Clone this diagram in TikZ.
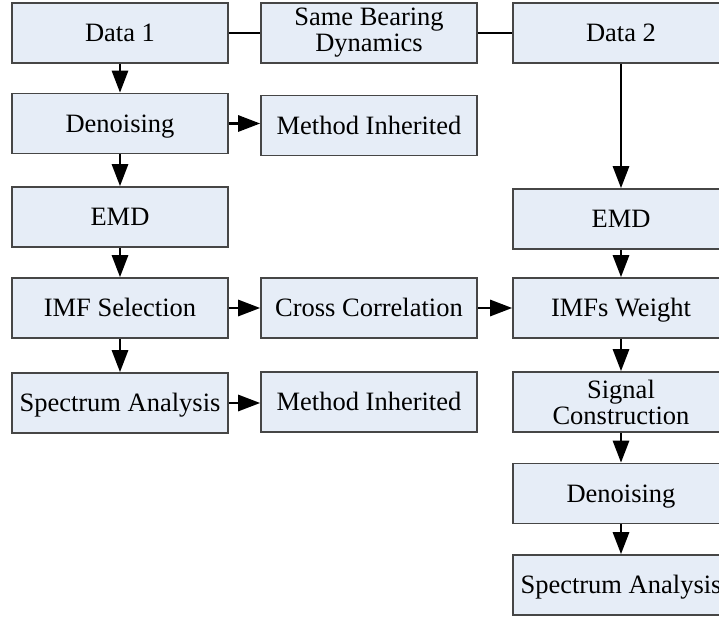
\documentclass[tikz,border=0pt]{standalone}
\usepackage{fontspec}
\setmainfont{Liberation Serif}
\usetikzlibrary{arrows.meta}
\definecolor{boxfill}{RGB}{230,237,247}
\definecolor{boxline}{RGB}{70,70,70}
\tikzset{
  stage/.style={draw=boxline, line width=1.6pt, fill=boxfill,
    minimum width=216pt, minimum height=60pt, inner sep=0pt,
    align=center, font=\fontsize{26.5}{26}\selectfont},
  % single-line boxes: centre the capitals, not the descenders
  oneline/.style={stage, text height=17.5pt, text depth=0pt},
  link/.style={line width=2.8pt, black},
  flow/.style={link, -{Triangle[length=22pt,width=16pt]}}
}
\begin{document}
\begin{tikzpicture}[x=1pt,y=-1pt]
\useasboundingbox (0,0) rectangle (719,617);
% top row
\node[oneline] (d1)  at (120,33)  {Data 1};
\node[stage]   (sbd) at (369,33)  {Same Bearing\\Dynamics};
\node[oneline] (d2)  at (621,33)  {Data 2};
% left branch
\node[oneline] (den1) at (120,123.5) {Denoising};
\node[oneline] (mi1)  at (369,125.5) {Method Inherited};
\node[oneline] (emd1) at (120,217)   {EMD};
\node[oneline] (imf)  at (120,308)   {IMF Selection};
\node[oneline] (cc)   at (369,308)   {Cross Correlation};
\node[oneline] (sa1)  at (120,403)   {Spectrum Analysis};
\node[oneline] (mi2)  at (369,402)   {Method Inherited};
% right branch
\node[oneline] (emd2) at (621,219)   {EMD};
\node[oneline] (w)    at (621,308)   {IMFs Weight};
\node[stage]   (sc)   at (621,402)   {Signal\\Construction};
\node[oneline] (den2) at (621,493.5) {Denoising};
\node[oneline] (sa2)  at (621,585)   {Spectrum Analysis};
% connectors
\draw[link] (d1.east) -- (sbd.west);
\draw[link] (sbd.east) -- (d2.west);
\draw[flow] (d1.south) -- (den1.north);
\draw[flow] (den1.east) -- (den1.east -| mi1.west);
\draw[flow] (den1.south) -- (emd1.north);
\draw[flow] (emd1.south) -- (imf.north);
\draw[flow] (imf.east) -- (cc.west);
\draw[flow] (cc.east) -- (w.west);
\draw[flow] (imf.south) -- (sa1.north);
\draw[flow] (sa1.east) -- (sa1.east -| mi2.west);
\draw[flow] (d2.south) -- (emd2.north);
\draw[flow] (emd2.south) -- (w.north);
\draw[flow] (w.south) -- (sc.north);
\draw[flow] (sc.south) -- (den2.north);
\draw[flow] (den2.south) -- (sa2.north);
\end{tikzpicture}
\end{document}
